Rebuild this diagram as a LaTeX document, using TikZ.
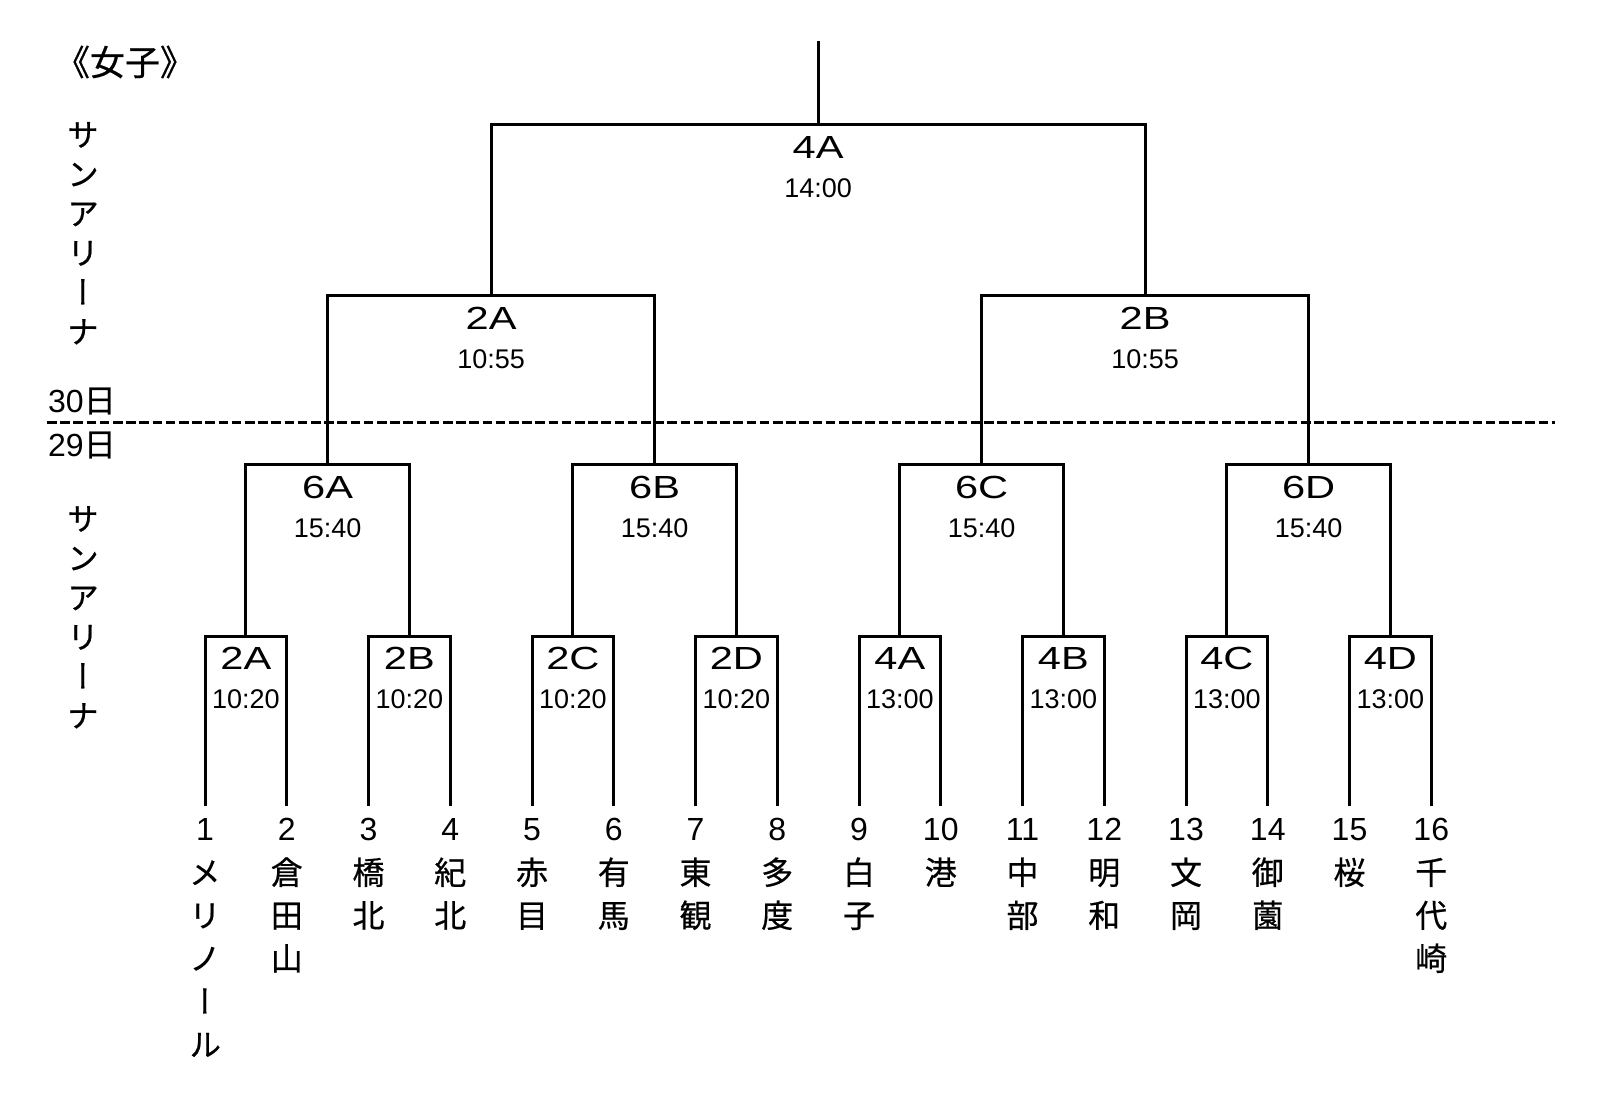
\documentclass[tikz,border=0pt]{standalone}
\usepackage{fontspec}
\usepackage{graphicx}
\setmainfont{Liberation Sans}
\newfontfamily\jp[FakeBold=0.5]{Noto Sans CJK JP}
\newfontfamily\jpv[RawFeature=+vert, FakeBold=0.5]{Noto Sans CJK JP}
\usetikzlibrary{calc}
\begin{document}
\begin{tikzpicture}[x=0.5pt,y=-0.5pt,
  br/.style={line width=1.5pt},
  match/.style={anchor=north, inner sep=0pt, text height=16.73pt, text depth=0pt, font=\fontsize{16}{19}\selectfont},
  tm/.style={inner sep=0pt, text height=9.67pt, text depth=0pt, font=\fontsize{13.5}{16}\selectfont},
  num/.style={anchor=north, inner xsep=0pt, inner ysep=5.5pt, text height=11.45pt, text depth=0pt, font=\fontsize{16}{19}\selectfont},
  team/.style={anchor=north, inner sep=0pt, align=center, font=\jpv\fontsize{16}{21.5}\selectfont},
  side/.style={anchor=north, inner sep=0pt, align=center, font=\jpv\fontsize{16}{19.7}\selectfont},
  lbl/.style={inner sep=0pt, font=\fontsize{16}{19}\selectfont}]
\useasboundingbox (0,0) rectangle (1600,1106);
\fill[white] (0,0) rectangle (1600,1106);

% left texts
\node[lbl, font=\jp\fontsize{17.5}{19}\selectfont] (title) at (125,62) {《女子》};
\node[side] (ven1) at (83,117.2) {\rule{0pt}{14.5pt}サ\\ン\\ア\\リ\\ー\\ナ};
\node[side] (ven2) at (83,501.2) {\rule{0pt}{14.5pt}サ\\ン\\ア\\リ\\ー\\ナ};
\node[lbl] (d30) at (82,401) {30{\jp 日}};
\node[lbl] (d29) at (82,445) {29{\jp 日}};

% day divider
\coordinate (dl) at (47,423);
\coordinate (dr) at (1555,423);
\draw[line width=1.5pt, dash pattern=on 4.8pt off 1.8pt] (dl) -- (dr);

% matches
\foreach \nm/\x/\y/\l/\t in {
  a1/245.9/636/2A/10:20, a2/409.4/636/2B/10:20, a3/572.9/636/2C/10:20, a4/736.4/636/2D/10:20,
  a5/899.9/636/4A/13:00, a6/1063.4/636/4B/13:00, a7/1226.9/636/4C/13:00, a8/1390.4/636/4D/13:00,
  b1/327.6/465/6A/15:40, b2/654.6/465/6B/15:40, b3/981.6/465/6C/15:40, b4/1308.6/465/6D/15:40,
  c1/491.1/296/2A/10:55, c2/1145.1/296/2B/10:55,
  d1/818.1/125/4A/14:00}{
  \node[match] (\nm) at (\x,\y) {\scalebox{1.3}[1]{\l}};
  \node[tm] (\nm-t) at ($(\nm.north)+(0,63)$) {\t};
}

% teams
\foreach \i/\nm in {1/{メ\\リ\\ノ\\ー\\ル}, 2/{倉\\田\\山}, 3/{橋\\北}, 4/{紀\\北},
  5/{赤\\目}, 6/{有\\馬}, 7/{東\\観}, 8/{多\\度}, 9/{白\\子}, 10/{港},
  11/{中\\部}, 12/{明\\和}, 13/{文\\岡}, 14/{御\\薗}, 15/{桜}, 16/{千\\代\\崎}}{
  \pgfmathsetmacro\xx{205+81.75*(\i-1)}
  \node[num] (n\i) at (\xx,806) {\i};
  \node[team] (s\i) at (\xx,855) {\rule{0pt}{14.5pt}\nm};
}

% bracket connectors
\draw[br] (n1.north) |- (a1.north) -| (n2.north);
\draw[br] (n3.north) |- (a2.north) -| (n4.north);
\draw[br] (n5.north) |- (a3.north) -| (n6.north);
\draw[br] (n7.north) |- (a4.north) -| (n8.north);
\draw[br] (n9.north) |- (a5.north) -| (n10.north);
\draw[br] (n11.north) |- (a6.north) -| (n12.north);
\draw[br] (n13.north) |- (a7.north) -| (n14.north);
\draw[br] (n15.north) |- (a8.north) -| (n16.north);
\draw[br] (a1.north) |- (b1.north) -| (a2.north);
\draw[br] (a3.north) |- (b2.north) -| (a4.north);
\draw[br] (a5.north) |- (b3.north) -| (a6.north);
\draw[br] (a7.north) |- (b4.north) -| (a8.north);
\draw[br] (b1.north) |- (c1.north) -| (b2.north);
\draw[br] (b3.north) |- (c2.north) -| (b4.north);
\draw[br] (c1.north) |- (d1.north) -| (c2.north);
\coordinate (top) at (818.1,41);
\draw[br] (top) -- (d1.north);
\end{tikzpicture}
\end{document}
